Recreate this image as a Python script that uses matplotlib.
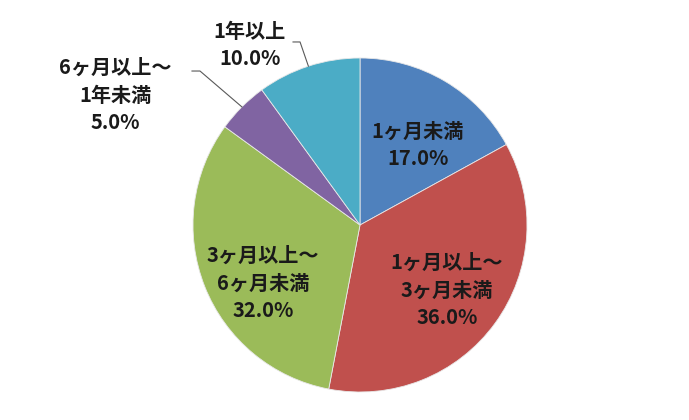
import numpy as np
import matplotlib
matplotlib.use('Agg')
import matplotlib.pyplot as plt

plt.rcParams['font.family'] = ['Noto Sans CJK JP', 'DejaVu Sans']

# Data (clockwise from 12 o'clock)
categories = ['1ヶ月未満', '1ヶ月以上～\n3ヶ月未満', '3ヶ月以上～\n6ヶ月未満', '6ヶ月以上～\n1年未満', '1年以上']
shares = [17.0, 36.0, 32.0, 5.0, 10.0]
colors = ['#4F81BD', '#C0504D', '#9BBB59', '#8064A2', '#4BACC6']

# Label placement (pie radius = 1)
inside_pos = {0: (0.347, 0.479), 1: (0.521, -0.389), 2: (-0.581, -0.347)}
outside_pos = {4: (-0.659, 1.078), 3: (-1.467, 0.778)}
elbow_pos = {4: ((-0.359, 1.096), (-0.401, 1.096)), 3: ((-0.958, 0.922), (-1.006, 0.922))}

R = 167.0
cx, cy = 360.0, 225.0
W, H = 689, 420

fig = plt.figure(figsize=(W / 100, H / 100), dpi=100)
ax = fig.add_axes([0, 0, 1, 1])

wedges, _ = ax.pie(shares, colors=colors, startangle=90, counterclock=False,
                   radius=1.0, wedgeprops=dict(edgecolor='#e8e8e8', linewidth=0.6))

# pie() resets the limits, so set them afterwards
ax.set_xlim(-cx / R, (W - cx) / R)
ax.set_ylim(-(H - cy) / R, cy / R)
ax.set_aspect('equal')
ax.axis('off')

for i, (cat, val) in enumerate(zip(categories, shares)):
    txt = f"{cat}\n{val:.1f}%"
    if i in inside_pos:
        x, y = inside_pos[i]
    else:
        x, y = outside_pos[i]
        w = wedges[i]
        mid = np.deg2rad((w.theta1 + w.theta2) / 2)
        px, py = np.cos(mid), np.sin(mid)
        (ex, ey), (hx, hy) = elbow_pos[i]
        ax.plot([px, ex, hx], [py, ey, hy], color='#595959', lw=0.8)
    ax.text(x, y, txt, ha='center', va='center', fontsize=14.5, fontweight='bold',
            color='#1a1a1a', linespacing=1.38)

fig.savefig('out.png', dpi=100)
